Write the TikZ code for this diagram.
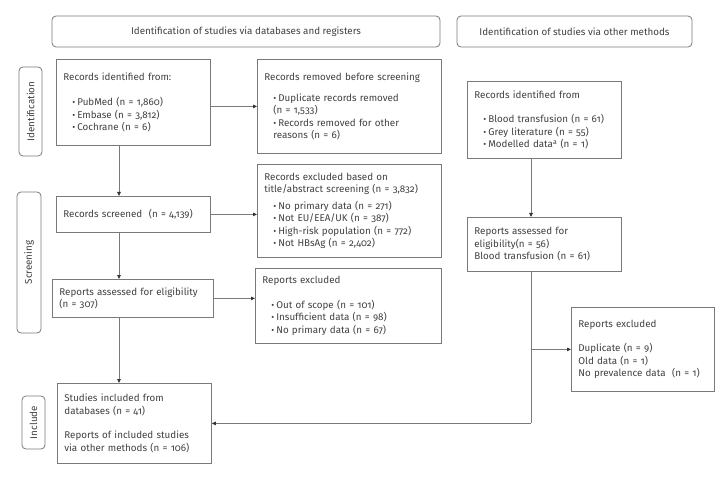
\documentclass[tikz,border=0pt]{standalone}
\usepackage{fontspec}
\setmainfont{Fira Sans}[Numbers=OldStyle]
\usetikzlibrary{arrows.meta}
\definecolor{linec}{HTML}{7A7A7A}
\definecolor{txtc}{HTML}{404040}
\newcommand\itm{\hspace*{9pt}{\small\textbullet}\hspace{2pt}}
\newcommand\cnt{\hspace*{9pt}}
\begin{document}
\begin{tikzpicture}[x=1pt,y=-1pt,
  font=\fontsize{9.8}{12.5}\selectfont, text=txtc,
  bx/.style={draw=linec, line width=0.8pt, align=left, inner xsep=7pt, inner ysep=0pt, anchor=north west},
  hdr/.style={draw=linec, line width=0.8pt, rounded corners=4pt, align=center, inner sep=0pt},
  side/.style={draw=linec, line width=0.8pt, rounded corners=4pt, rotate=90, inner sep=0pt},
  ln/.style={draw=linec, line width=0.8pt},
  arr/.style={ln, -{Triangle[length=4pt,width=3.5pt,fill=black!80,color=black!80]}}]
\useasboundingbox (0,0) rectangle (725,478);
% headers
\node[hdr, minimum width=388, minimum height=31] (h1) at (246,31.5) {Identification of studies via databases and registers};
\node[hdr, minimum width=235, minimum height=31] (h2) at (574.5,31.5) {Identification of studies via other methods};
% side labels
\node[side, minimum width=89, minimum height=23] (s1) at (30.5,111.5) {Identification};
\node[side, minimum width=141, minimum height=24] (s2) at (29,262.5) {Screening};
\node[side, minimum width=53, minimum height=23] (s3) at (33.5,422.5) {Include};
% left column
\node[bx, text width=140, minimum height=86] (a) at (56,59) {Records identified from:\\[12.5pt]
\itm PubMed (n = 1,860)\\ \itm Embase (n = 3,812)\\ \itm Cochrane (n = 6)};
\node[bx, text width=140, minimum height=36] (sc) at (56,196) {Records screened \ (n = 4,139)};
\node[bx, text width=147, minimum height=38] (ra) at (52,279) {Reports assessed for eligibility\\(n = 307)};
\node[bx, text width=140, minimum height=80] (si) at (57,383) {Studies included from\\databases (n = 41)\\[12pt]
Reports of included studies\\via other methods (n = 106)};
% middle column
\node[bx, text width=170, minimum height=94] (b) at (257,59) {Records removed before screening\\[8pt]
\itm Duplicate records removed\\ \cnt(n = 1,533)\\ \itm Records removed for other\\ \cnt reasons (n = 6)};
\node[bx, text width=170, minimum height=93] (c) at (257,164) {Records excluded based on\\title/abstract screening (n = 3,832)\\[4pt]
\itm No primary data (n = 271)\\ \itm Not EU/EEA/UK (n = 387)\\ \itm High-risk population (n = 772)\\ \itm Not HBsAg (n = 2,402)};
\node[bx, text width=172, minimum height=75] (d) at (255,268) {Reports excluded\\[12pt]
\itm Out of scope (n = 101)\\ \itm Insufficient data (n = 98)\\ \itm No primary data (n = 67)};
% right column
\node[bx, text width=140, minimum height=77] (ri) at (467,81) {Records identified from\\[12pt]
\itm Blood transfusion (n = 61)\\ \itm Grey literature (n = 55)\\ \itm Modelled data\textsuperscript{a} (n = 1)};
\node[bx, text width=140, minimum height=54] (rb) at (467,217) {Reports assessed for\\eligibility(n = 56)\\Blood transfusion (n = 61)};
\node[bx, text width=129, minimum height=84] (re) at (571,307) {Reports excluded\\[12pt]
Duplicate (n = 9)\\Old data (n = 1)\\No prevalence data \ (n = 1)\\[5pt]};
% connector x positions
\coordinate (mx) at (119,0);
\coordinate (rx) at (531,0);
% left flow
\draw[arr] (a.south -| mx) -- (sc.north -| mx);
\draw[arr] (sc.south -| mx) -- (ra.north -| mx);
\draw[arr] (ra.south -| mx) -- (si.north -| mx);
\draw[arr] (a.east |- b.west) -- (b.west);
\draw[arr] (sc.east) -- (sc.east -| c.west);
\draw[arr] (ra.east) -- (ra.east -| d.west);
% right flow
\draw[arr] (ri.south -| rx) -- (rb.north -| rx);
\coordinate (rc) at (rx |- si.east);
\draw[ln] (rb.south -| rx) -- (rc);
\draw[arr] (rc) -- (si.east);
\draw[arr] (rx |- re.west) -- (re.west);
\end{tikzpicture}
\end{document}
